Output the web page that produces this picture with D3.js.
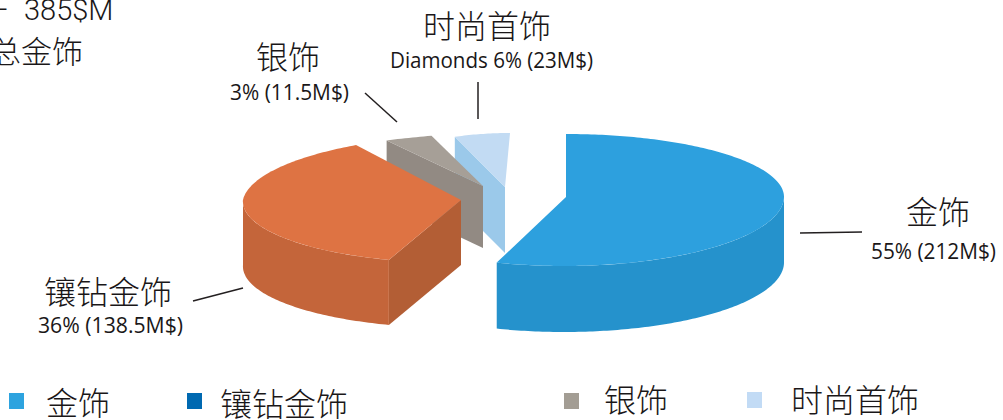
<!DOCTYPE html>
<html>
<head>
<meta charset="utf-8">
<script src="https://cdn.jsdelivr.net/npm/d3@7"></script>
<style>
  html, body { margin: 0; padding: 0; background: #fff; overflow: hidden; }
  svg { display: block; }
  text { fill: #1a1718; }
  .zh { font-family: "Noto Sans CJK SC", sans-serif; font-weight: 300; }
  .note { font-family: "Open Sans", sans-serif; font-size: 22px; }
  .total { font-family: "Roboto", sans-serif; font-weight: 300; font-size: 29px; word-spacing: 8px; }
</style>
</head>
<body>
<div id="chart"></div>
<script>
var categories = ["金饰", "镶钻金饰", "银饰", "时尚首饰"];
var shares = [55, 36, 3, 6];
var amounts = ["212M$", "138.5M$", "11.5M$", "23M$"];
var prefixes = ["", "", "", "Diamonds "];
var totalLabel = "– 385$M";
var totalTitle = "总金饰";

var width = 1003, height = 420;
var TAU = Math.PI * 2;

var svg = d3.select("#chart").append("svg")
  .attr("width", width)
  .attr("height", height);

// every slice is pulled apart by hand and has its own ellipse
var layout = [
  { cx: 566, cy: 197, rx: 218, skewTop: 0, skewBottom: 2, ryTop: 63, ryBottom: 69, depth: 66,
    top: "#2da0de", side: "#2592cc", cut: "#2592cc" },
  { cx: 461, cy: 200, rx: 218, skewTop: 14, skewBottom: 5, ryTop: 65, ryBottom: 63, depth: 65,
    top: "#de7343", side: "#c4653a", cut: "#b35e35" },
  { cx: 483, cy: 186, rx: 246, skewTop: 42, skewBottom: 0, ryTop: 54, ryBottom: 54, depth: 62,
    top: "#a69f97", side: "#928a83", cut: "#928a83" },
  { cx: 505, cy: 187, rx: 149, skewTop: 5, skewBottom: 0, ryTop: 54, ryBottom: 54, depth: 66,
    top: "#c2dbf3", side: "#9bc9ea", cut: "#9bc9ea" }
];
var legendColors = ["#2da3df", "#0069b1", "#a39d94", "#c2dbf5"];

var slices = d3.pie().sort(null)(shares);
var line = d3.line();

function rimPoint(conf, a, drop) {
  var c = Math.cos(a), s = Math.sin(a);
  var ry = c > 0 ? conf.ryTop : conf.ryBottom;
  var skew = c > 0 ? conf.skewTop : conf.skewBottom;
  return [conf.cx + conf.rx * s + skew * c, conf.cy - ry * c + (drop || 0)];
}

function rim(conf, a0, a1, drop) {
  var n = Math.max(2, Math.ceil((a1 - a0) * 60));
  return d3.range(n + 1).map(function (i) {
    return rimPoint(conf, a0 + (a1 - a0) * i / n, drop);
  });
}

// back to front, the gold slice sits on top of everything
var order = [3, 2, 1, 0];
var pie = svg.append("g");

order.forEach(function (i) {
  var conf = layout[i], d = slices[i];
  var g = pie.append("g");
  var apex = [conf.cx, conf.cy];
  var apexLow = [conf.cx, conf.cy + conf.depth];

  // cut face behind the first edge, only seen on the slices left of gold
  if (i > 0) {
    var p = rimPoint(conf, d.startAngle), q = rimPoint(conf, d.startAngle, conf.depth);
    g.append("path")
      .attr("d", line([p, apex, apexLow, q]) + "Z")
      .attr("fill", conf.cut);
  }

  // outer wall, only the part facing the viewer
  var a0 = Math.max(d.startAngle, TAU / 4);
  var a1 = Math.min(d.endAngle, TAU * 3 / 4);
  if (a1 > a0) {
    var wall = rim(conf, a0, a1).concat(rim(conf, a0, a1, conf.depth).reverse());
    g.append("path")
      .attr("d", line(wall) + "Z")
      .attr("fill", conf.side);
  }

  g.append("path")
    .attr("d", line(rim(conf, d.startAngle, d.endAngle).concat([apex])) + "Z")
    .attr("fill", conf.top);
});

// leader lines
var leaders = [
  [[800, 233], [862, 232]],
  [[193, 301], [243, 288]],
  [[365, 93], [397, 122]],
  [[478, 82], [478, 119]]
];
svg.append("g").selectAll("path")
  .data(leaders)
  .enter().append("path")
  .attr("d", function (d) { return line(d); })
  .attr("fill", "none")
  .attr("stroke", "#231f20")
  .attr("stroke-width", 1.5);

// labels, same order as categories
var labelPos = [
  { x: 938, y: 224, nx: 933.5, ny: 259, nw: 125 },
  { x: 108, y: 304, nx: 110.5, ny: 333, nw: 145 },
  { x: 288, y: 69, nx: 289.5, ny: 100, nw: 119 },
  { x: 487, y: 38, nx: 491.5, ny: 68, nw: 203 }
];
var labels = svg.append("g");
categories.forEach(function (name, i) {
  var pos = labelPos[i];
  labels.append("text")
    .attr("class", "zh")
    .attr("x", pos.x)
    .attr("y", pos.y)
    .attr("text-anchor", "middle")
    .attr("font-size", 32)
    .text(name);
  labels.append("text")
    .attr("class", "note")
    .attr("x", pos.nx)
    .attr("y", pos.ny)
    .attr("text-anchor", "middle")
    .attr("textLength", pos.nw)
    .attr("lengthAdjust", "spacingAndGlyphs")
    .text(prefixes[i] + shares[i] + "% (" + amounts[i] + ")");
});

// total, runs off the left edge in the original
svg.append("text")
  .attr("class", "total")
  .attr("x", -10)
  .attr("y", 20)
  .text(totalLabel);
svg.append("text")
  .attr("class", "zh")
  .attr("x", -10)
  .attr("y", 63)
  .attr("font-size", 31)
  .text(totalTitle);

// legend
var legendPos = [
  { sx: 9, tx: 46, sy: 393, ty: 415 },
  { sx: 187, tx: 220, sy: 393, ty: 416 },
  { sx: 564, tx: 604, sy: 393, ty: 412 },
  { sx: 747, tx: 791, sy: 392, ty: 412 }
];
var legend = svg.append("g");
categories.forEach(function (name, i) {
  var pos = legendPos[i];
  legend.append("rect")
    .attr("x", pos.sx)
    .attr("y", pos.sy)
    .attr("width", 15)
    .attr("height", 16)
    .attr("fill", legendColors[i]);
  legend.append("text")
    .attr("class", "zh")
    .attr("x", pos.tx)
    .attr("y", pos.ty)
    .attr("font-size", 32)
    .text(name);
});
</script>
</body>
</html>
